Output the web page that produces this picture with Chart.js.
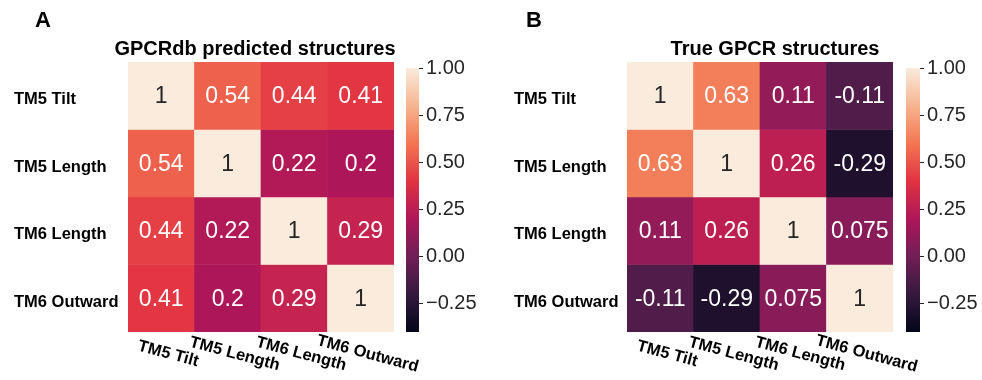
<!DOCTYPE html>
<html>
<head>
<meta charset="utf-8">
<script src="https://cdn.jsdelivr.net/npm/chart.js@4.4.1/dist/chart.umd.min.js"></script>
<style>
  html, body { margin: 0; padding: 0; background: #fff; }
  #wrap { position: relative; width: 982px; height: 380px; overflow: hidden; }
  #wrap canvas { position: absolute; top: 0; }
</style>
</head>
<body>
<div id="wrap">
  <canvas id="heatA" width="491" height="380" style="left:0px"></canvas>
  <canvas id="cbarA" width="91" height="380" style="left:400px"></canvas>
  <canvas id="heatB" width="491" height="380" style="left:491px"></canvas>
  <canvas id="cbarB" width="82" height="380" style="left:900px"></canvas>
</div>
<script>
// features (rows and columns are the same)
const features = ['TM5 Tilt', 'TM5 Length', 'TM6 Length', 'TM6 Outward'];

// A: GPCRdb predicted structures, one array per row
const predTM5Tilt    = [1, 0.54, 0.44, 0.41];
const predTM5Length  = [0.54, 1, 0.22, 0.2];
const predTM6Length  = [0.44, 0.22, 1, 0.29];
const predTM6Outward = [0.41, 0.2, 0.29, 1];

// B: True GPCR structures
const trueTM5Tilt    = [1, 0.63, 0.11, -0.11];
const trueTM5Length  = [0.63, 1, 0.26, -0.29];
const trueTM6Length  = [0.11, 0.26, 1, 0.075];
const trueTM6Outward = [-0.11, -0.29, 0.075, 1];

// colour bar range and ticks
const cbMin = -0.4;
const cbMax = 1.0;
const cbTicks = [-0.25, 0, 0.25, 0.5, 0.75, 1];

// seaborn "rocket" colormap, sampled
const rocket = [
  [0, '#03051a'], [1/7, '#35193e'], [2/7, '#701f57'], [3/7, '#ad1759'],
  [4/7, '#e13342'], [5/7, '#f37651'], [6/7, '#f6b48f'], [1, '#faebdd']
];

const FONT = '"Liberation Sans", Arial, Helvetica, sans-serif';
const DARK = '#262626';

function hexRgb(h) {
  return [parseInt(h.slice(1, 3), 16), parseInt(h.slice(3, 5), 16), parseInt(h.slice(5, 7), 16)];
}

function rocketRgb(v) {
  let t = (v - cbMin) / (cbMax - cbMin);
  t = Math.max(0, Math.min(1, t));
  for (let i = 1; i < rocket.length; i++) {
    if (t <= rocket[i][0]) {
      const [t0, c0] = rocket[i - 1];
      const [t1, c1] = rocket[i];
      const f = (t - t0) / (t1 - t0);
      const a = hexRgb(c0), b = hexRgb(c1);
      return a.map((x, k) => Math.round(x + (b[k] - x) * f));
    }
  }
  return hexRgb(rocket[rocket.length - 1][1]);
}

function rocketColor(v) {
  const c = rocketRgb(v);
  return `rgb(${c[0]},${c[1]},${c[2]})`;
}

function isLight(v) {
  const c = rocketRgb(v).map(x => {
    x = x / 255;
    return x <= 0.03928 ? x / 12.92 : Math.pow((x + 0.055) / 1.055, 2.4);
  });
  return 0.2126 * c[0] + 0.7152 * c[1] + 0.0722 * c[2] > 0.408;
}

// draws cell numbers, axis labels, title and panel letter
const heatText = {
  id: 'heatText',
  afterDatasetsDraw(chart, args, opts) {
    const ctx = chart.ctx;
    const area = chart.chartArea;
    ctx.save();

    // cell values
    ctx.font = `23px ${FONT}`;
    ctx.textAlign = 'center';
    ctx.textBaseline = 'middle';
    chart.data.datasets.forEach((ds, r) => {
      chart.getDatasetMeta(r).data.forEach((bar, c) => {
        const v = ds.values[c];
        ctx.fillStyle = isLight(v) ? DARK : '#ffffff';
        ctx.fillText(String(v), bar.x, (bar.y + bar.base) / 2 + 1);
      });
    });

    // row labels
    ctx.fillStyle = '#000';
    ctx.font = `bold 16.5px ${FONT}`;
    ctx.textAlign = 'left';
    chart.data.datasets.forEach((ds, r) => {
      const bar = chart.getDatasetMeta(r).data[0];
      ctx.fillText(ds.label, opts.yLabelX, (bar.y + bar.base) / 2 + 4);
    });

    // column labels, rotated
    ctx.textAlign = 'center';
    const first = chart.getDatasetMeta(0).data;
    chart.data.labels.forEach((lab, c) => {
      ctx.save();
      ctx.translate(first[c].x + 7, area.bottom + 22);
      ctx.rotate(15 * Math.PI / 180);
      ctx.fillText(lab, 0, 0);
      ctx.restore();
    });

    // title
    ctx.font = `bold 20px ${FONT}`;
    ctx.textBaseline = 'alphabetic';
    ctx.fillText(opts.title, opts.titleX, 55);

    // panel letter
    ctx.font = `bold 22px ${FONT}`;
    ctx.textAlign = 'left';
    ctx.fillText(opts.letter, 35, 27);
    ctx.restore();
  }
};

function makeHeatmap(id, rows, title, letter, pad, yLabelX, titleX) {
  const datasets = rows.map((vals, r) => ({
    label: features[r],
    values: vals,
    data: vals.map(() => 1),
    backgroundColor: vals.map(rocketColor),
    borderWidth: 0,
    barPercentage: 1,
    categoryPercentage: 1
  }));
  return new Chart(document.getElementById(id), {
    type: 'bar',
    data: { labels: features, datasets: datasets },
    options: {
      responsive: false,
      animation: false,
      devicePixelRatio: 1,
      layout: { padding: pad },
      plugins: {
        legend: { display: false },
        tooltip: { enabled: false },
        heatText: { title: title, letter: letter, yLabelX: yLabelX, titleX: titleX }
      },
      scales: {
        x: { stacked: true, display: false },
        y: { stacked: true, display: false, min: 0, max: features.length, reverse: true }
      }
    },
    plugins: [heatText]
  });
}

function makeColorbar(id, pad, axisWidth) {
  return new Chart(document.getElementById(id), {
    type: 'bar',
    data: {
      labels: [''],
      datasets: [{
        data: [[cbMin, cbMax]],
        borderWidth: 0,
        borderSkipped: false,
        barPercentage: 1,
        categoryPercentage: 1,
        backgroundColor: function (c) {
          const chart = c.chart;
          if (!chart.chartArea) return '#888';
          const y = chart.scales.y;
          const g = chart.ctx.createLinearGradient(0, y.getPixelForValue(cbMin), 0, y.getPixelForValue(cbMax));
          rocket.forEach(s => g.addColorStop(s[0], s[1]));
          return g;
        }
      }]
    },
    options: {
      responsive: false,
      animation: false,
      devicePixelRatio: 1,
      layout: { padding: pad },
      plugins: { legend: { display: false }, tooltip: { enabled: false } },
      scales: {
        x: { display: false },
        y: {
          position: 'right',
          min: cbMin,
          max: cbMax,
          afterBuildTicks: axis => { axis.ticks = cbTicks.map(v => ({ value: v })); },
          afterFit: axis => { axis.width = axisWidth; },
          border: { display: false },
          grid: { drawOnChartArea: false, drawTicks: true, tickLength: 4, tickColor: DARK, tickWidth: 1 },
          ticks: {
            padding: 3,
            color: DARK,
            font: { size: 20, family: FONT },
            callback: v => Number(v).toFixed(2).replace('-', '\u2212')
          }
        }
      }
    }
  });
}

makeHeatmap('heatA', [predTM5Tilt, predTM5Length, predTM6Length, predTM6Outward],
  'GPCRdb predicted structures', 'A', { left: 128, right: 97, top: 62, bottom: 48 }, 14, 255);
makeColorbar('cbarA', { left: 6, right: 0, top: 68, bottom: 48 }, 72);

makeHeatmap('heatB', [trueTM5Tilt, trueTM5Length, trueTM6Length, trueTM6Outward],
  'True GPCR structures', 'B', { left: 136, right: 89, top: 62, bottom: 48 }, 23, 284);
makeColorbar('cbarB', { left: 6, right: 0, top: 68, bottom: 48 }, 62);
</script>
</body>
</html>
